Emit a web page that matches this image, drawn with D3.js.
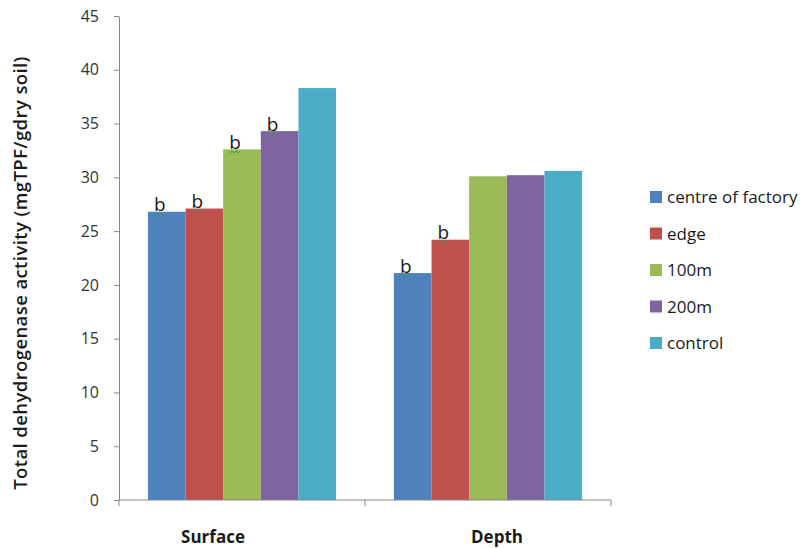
<!DOCTYPE html>
<html><head><meta charset="utf-8">
<script src="https://cdn.jsdelivr.net/npm/d3@7"></script>
<style>body{margin:0;background:#fff;} svg{display:block;font-family:"Open Sans",Lato,sans-serif;}</style>
</head><body>
<svg id="chart" width="804" height="548"></svg>
<script>
const categories = ["Surface", "Depth"];
const series = ["centre of factory", "edge", "100m", "200m", "control"];
const centreOfFactory = [26.8, 21.1];
const edge = [27.1, 24.2];
const m100 = [32.6, 30.1];
const m200 = [34.3, 30.2];
const control = [38.3, 30.6];
const letters = [["b","b","b","b",""],["b","b","","",""]];
const yTicks = [0,5,10,15,20,25,30,35,40,45];
const colors = ["#4F81BD","#C0504D","#9BBB59","#8064A2","#4BACC6"];

const values = [centreOfFactory, edge, m100, m200, control];
const svg = d3.select("#chart");
const FONT = "'Open Sans', Lato, sans-serif";
const L = 119, R = 611, T = 16, B = 500;
const x0 = d3.scaleBand().domain(categories).range([L, R]).paddingInner(0.235).paddingOuter(0.1175);
const x1 = d3.scaleBand().domain(series).range([0, x0.bandwidth()]);
const y = d3.scaleLinear().domain([0,45]).range([B, T]);

// y axis
const ya = svg.append("g").attr("transform",`translate(${L},0)`)
  .call(d3.axisLeft(y).tickValues(yTicks).tickSize(5).tickSizeOuter(0).tickPadding(15));
ya.select(".domain").attr("stroke","#868686");
ya.selectAll(".tick line").attr("stroke","#868686");
ya.selectAll("text").attr("font-size",16).attr("fill","#333").attr("font-family",FONT);

// bars
const groups = svg.append("g").selectAll("g").data(categories).join("g")
  .attr("transform", d => `translate(${x0(d)},0)`);
groups.selectAll("rect").data((c,ci) => series.map((s,si) => ({s, si, ci, v: values[si][ci]})))
  .join("rect")
  .attr("x", d => x1(d.s)).attr("width", x1.bandwidth())
  .attr("y", d => y(d.v)).attr("height", d => B - y(d.v))
  .attr("fill", d => colors[d.si]);

// letters
groups.each(function(c,ci){
  const g = d3.select(this);
  series.forEach((s,si)=>{
    const lt = letters[ci][si];
    if(!lt) return;
    const v = values[si][ci];
    const bx = x1(s) + 6;
    g.append("text").attr("x", bx).attr("y", y(v) - 0.5).text(lt)
      .attr("font-size",19).attr("fill","#1a1a1a").attr("font-family",FONT);
    let p = "";
    for(let i=0;i<=5;i++){ const xx = bx + 1 + i*2; const yy = y(v) + 2.5 + (i%2? -1.2:1.2); p += (i?"L":"M")+xx+","+yy; }
    g.append("path").attr("d",p).attr("fill","none").attr("stroke", "#3c9a3c").attr("stroke-width",0.9);
  });
});

// x axis
const xa = svg.append("g");
xa.append("line").attr("x1",L).attr("x2",R).attr("y1",B).attr("y2",B).attr("stroke","#868686");
const bounds = [L, (x0(categories[0]) + x0.bandwidth() + x0(categories[1]))/2, R];
xa.selectAll("line.t").data(bounds).join("line").attr("class","t")
  .attr("x1",d=>d).attr("x2",d=>d).attr("y1",B).attr("y2",B+6).attr("stroke","#868686");
const labelOffset = [-29, 9];
xa.selectAll("text").data(categories).join("text")
  .attr("x",(d,i)=>x0(d)+x0.bandwidth()/2+labelOffset[i]).attr("y",543)
  .attr("text-anchor","middle").attr("font-size",17).attr("font-weight","bold").attr("fill","#1a1a1a")
  .text(d=>d);

// y title
svg.append("text").attr("transform","translate(27,273) rotate(-90)").attr("text-anchor","middle")
  .attr("font-size",18.5).attr("font-weight",600).attr("letter-spacing",0.4).attr("fill","#1a1a1a")
  .text("Total dehydrogenase activity (mgTPF/gdry soil)");

// legend
const lg = svg.append("g").selectAll("g").data(series).join("g")
  .attr("transform",(d,i)=>`translate(650,${197 + i*36.5})`);
lg.append("rect").attr("x",0).attr("y",-6).attr("width",12).attr("height",12).attr("fill",(d,i)=>colors[i]);
lg.append("text").attr("x",17).attr("y",6).attr("font-size",17).attr("fill","#1a1a1a").text(d=>d);
</script>
</body></html>
